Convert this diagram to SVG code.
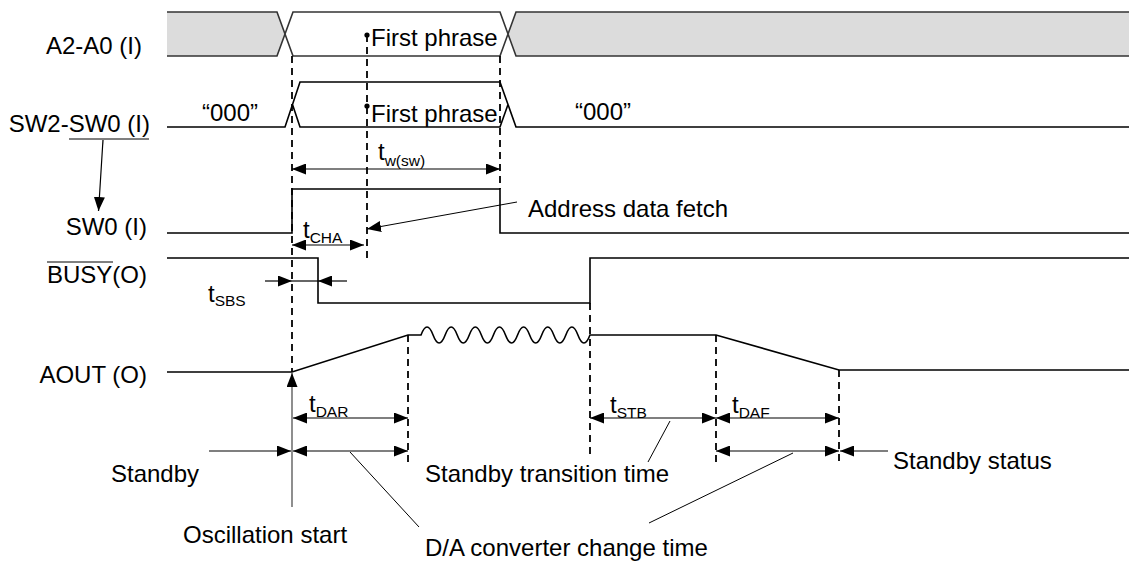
<svg xmlns="http://www.w3.org/2000/svg" width="1129" height="562" viewBox="0 0 1129 562">
<style>
text{font-family:"Liberation Sans",Arial,sans-serif;font-size:24px;fill:#000}
.sub{font-size:15.5px}
.end{text-anchor:end}
.sig{fill:none;stroke:#000;stroke-width:1.6}
.bus{fill:#dcdcdc;stroke:none}
.busl{fill:none;stroke:#333;stroke-width:1.6}
.dash{fill:none;stroke:#000;stroke-width:1.8;stroke-dasharray:7 5}
.dim{fill:none;stroke:#000;stroke-width:1.2}
.lead{fill:none;stroke:#000;stroke-width:1}
.gray{fill:none;stroke:#444;stroke-width:1.2}
</style>
<defs>
<marker id="ah" viewBox="0 0 14 11" refX="14" refY="5.5" markerWidth="14" markerHeight="11" markerUnits="userSpaceOnUse" orient="auto-start-reverse">
<path d="M0,0L14,5.5L0,11z" fill="#000"/>
</marker>
</defs>
<rect width="1129" height="562" fill="#fff"/>

<g id="sig-a2a0">
<polygon class="bus" points="167,12 277,12 285,34 277,56 167,56"/>
<polygon class="bus" points="1129,12 516,12 508,34 516,56 1129,56"/>
<path class="busl" d="M167,12H277L293,56H500L516,12H1129M167,56H277L293,12H500L516,56H1129"/>
<text class="end" x="142" y="54">A2-A0 (I)</text>
<circle cx="367" cy="35" r="2.6"/>
<text x="371" y="46">First phrase</text>
</g>

<g id="sig-sw">
<path class="sig" d="M167,127H285L300,82H500L516,127H1129M292.5,104.5L300,127H500L508,104.5"/>
<text x="202" y="121">“000”</text>
<text x="575" y="120">“000”</text>
<circle cx="367" cy="106" r="2.6"/>
<text x="371" y="122">First phrase</text>
<text class="end" x="150" y="132">SW2-SW0 (I)</text>
<line class="lead" x1="69" y1="139" x2="149" y2="139"/>
</g>

<g id="sig-sw0">
<path class="sig" d="M167,233H292V189H500V233H1129"/>
<text class="end" x="147" y="235">SW0 (I)</text>
</g>

<g id="sig-busy">
<path class="sig" d="M167,258H318V303H590V258H1129"/>
<text class="end" x="147" y="283">BUSY(O)</text>
<line class="lead" x1="47" y1="262" x2="113" y2="262"/>
</g>

<g id="sig-aout">
<path class="sig" d="M167,372H292L408,335H421q6.035,-16 12.07,0t12.07,0t12.07,0t12.07,0t12.07,0t12.07,0t12.07,0t12.07,0t12.07,0t12.07,0t12.07,0t12.07,0t12.07,0t12.07,0H716L839,370H1129"/>
<text class="end" x="147" y="383">AOUT (O)</text>
</g>

<g id="guides">
<path class="dash" d="M292,56V372M367,35V258M500,56V189M408,335V465M590,303V455M716,335V465M839,370V465"/>
</g>

<g id="connectors">
<line class="dim" x1="103" y1="140" x2="98.5" y2="211" marker-end="url(#ah)"/>
<line class="dim" x1="292" y1="169" x2="500" y2="169" marker-start="url(#ah)" marker-end="url(#ah)"/>
<line class="dim" x1="292" y1="245" x2="364" y2="245" marker-start="url(#ah)" marker-end="url(#ah)"/>
<line class="lead" x1="517" y1="202" x2="367" y2="229" marker-end="url(#ah)"/>
<line class="dim" x1="265" y1="281" x2="292" y2="281" marker-end="url(#ah)"/>
<line class="dim" x1="292" y1="281" x2="318" y2="281"/>
<line class="dim" x1="347" y1="281" x2="318" y2="281" marker-end="url(#ah)"/>
<line class="dim" x1="293" y1="418" x2="408" y2="418" marker-start="url(#ah)" marker-end="url(#ah)"/>
<line class="dim" x1="590" y1="418" x2="716" y2="418" marker-start="url(#ah)" marker-end="url(#ah)"/>
<line class="dim" x1="716" y1="418" x2="839" y2="418" marker-start="url(#ah)" marker-end="url(#ah)"/>
<line class="dim" x1="209" y1="451" x2="291" y2="451" marker-end="url(#ah)"/>
<line class="dim" x1="293" y1="451" x2="408" y2="451" marker-start="url(#ah)" marker-end="url(#ah)"/>
<line class="dim" x1="716" y1="451" x2="839" y2="451" marker-start="url(#ah)" marker-end="url(#ah)"/>
<line class="dim" x1="888" y1="451" x2="840" y2="451" marker-end="url(#ah)"/>
<line class="gray" x1="292" y1="507" x2="292" y2="373" marker-end="url(#ah)"/>
<line class="lead" x1="350" y1="452" x2="419" y2="527"/>
<line class="lead" x1="670" y1="421" x2="648" y2="462"/>
<line class="lead" x1="793" y1="453" x2="649" y2="523"/>
</g>

<g id="labels">
<text x="378" y="160">t<tspan class="sub" dy="6">w(sw)</tspan></text>
<text x="303" y="238">t<tspan class="sub" dy="5">CHA</tspan></text>
<text x="208" y="302">t<tspan class="sub" dy="4">SBS</tspan></text>
<text x="309" y="412">t<tspan class="sub" dy="5">DAR</tspan></text>
<text x="610" y="413">t<tspan class="sub" dy="5">STB</tspan></text>
<text x="732" y="413">t<tspan class="sub" dy="5">DAF</tspan></text>
<text x="528" y="217">Address data fetch</text>
<text x="111" y="482">Standby</text>
<text x="425" y="482">Standby transition time</text>
<text x="893" y="469">Standby status</text>
<text x="183" y="543">Oscillation start</text>
<text x="425" y="556">D/A converter change time</text>
</g>
</svg>
